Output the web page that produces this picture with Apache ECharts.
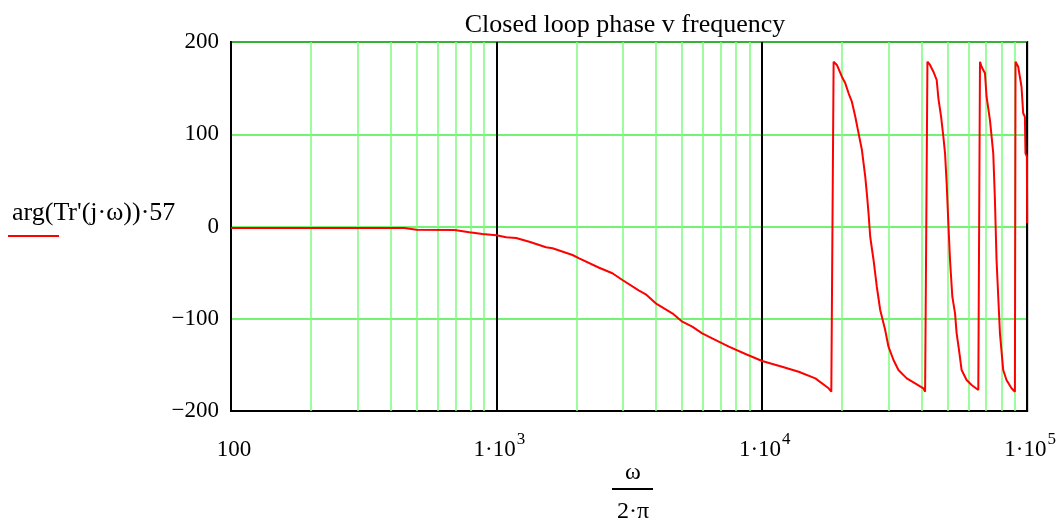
<!DOCTYPE html>
<html>
<head>
<meta charset="utf-8">
<script src="https://cdn.jsdelivr.net/npm/echarts@6/dist/echarts.min.js"></script>
<style>
  html, body { margin: 0; padding: 0; background: #fff; }
  #chart { width: 1059px; height: 522px; }
</style>
</head>
<body>
<div id="chart"></div>
<script>
// Closed-loop phase response, frequency in Hz (omega / 2pi), phase in degrees
const freq = [
  100, 200, 400, 450, 500, 695, 791, 886, 1000, 1088, 1186, 1331, 1538, 1628, 1936,
  2051, 2439, 2736, 2984, 3449, 3655, 3985, 4601, 5018, 5470, 5964, 6504, 7515, 8683,
  10030, 11924, 13774, 15918, 17858, 18281,
  18650, 19190, 20040, 20640, 21240, 21850, 22510, 23160, 23840, 24540, 24880, 25250,
  25620, 26370, 27130, 27940, 29170, 30020, 31350, 32730, 35170, 37830, 40640, 41250,
  42090, 43050, 44330, 45610, 46290, 47380, 48330, 49040, 49730, 50470, 51200, 52240,
  53480, 54230, 55360, 56620, 59120, 61750, 65440, 65830,
  66410, 67330, 69340, 70310, 72410, 74510, 75600, 76670, 77800, 78960, 81230, 83580,
  87300, 89910,
  90390, 92520, 95200, 96610, 98040, 98550, 99750, 100000
];
const phase = [
  -1.5, -1.5, -1.5, -1.7, -3.5, -3.8, -6.3, -8.1, -9.5, -11.7, -12.5, -16.5, -22.5, -23.6, -30.9,
  -34.5, -44.7, -50.7, -58.0, -69.6, -73.5, -83.3, -94.1, -103.2, -108.6, -115.8, -121.2, -130.3, -138.2,
  -145.8, -152.0, -157.4, -164.6, -175.4, -179.1,
  178.6, 175.1, 162.4, 155.2, 144.4, 135.3, 119.0, 101.0, 82.9, 54.0, 36.0, 14.3,
  -11.1, -36.3, -65.3, -90.5, -112.2, -130.3, -144.7, -155.6, -164.6, -170.0, -175.4, -179.1,
  178.6, 175.1, 167.8, 158.8, 139.0, 119.0, 97.3, 79.3, 46.8, 3.5, -36.3, -76.1,
  -94.1, -115.8, -133.9, -155.6, -166.4, -171.8, -177.2, -179.1,
  178.6, 173.2, 166.1, 140.7, 115.4, 79.3, 28.7, -36.3, -76.1, -115.8, -155.6, -166.4,
  -175.4, -179.1,
  178.6, 173.2, 151.5, 122.7, 119.0, 79.3, 75.7, 3.5
];

// Intermediate (2..9 per decade) vertical grid lines
const minorGrid = [
  200, 300, 400, 500, 600, 700, 800, 900,
  2000, 3000, 4000, 5000, 6000, 7000, 8000, 9000,
  20000, 30000, 40000, 50000, 60000, 70000, 80000, 90000
];

const seriesName = "arg(Tr'(j\u00b7\u03c9))\u00b757";
const FONT = "'Liberation Serif', 'Times New Roman', serif";

const chart = echarts.init(document.getElementById('chart'), null, { renderer: 'canvas' });

const supRich = {
  b: { fontFamily: FONT, fontSize: 23, color: '#000', lineHeight: 30, verticalAlign: 'bottom' },
  s: { fontFamily: FONT, fontSize: 17, color: '#000', lineHeight: 30, verticalAlign: 'top', padding: [0, 0, 12, 1] }
};

chart.setOption({
  animation: false,
  backgroundColor: '#fff',
  title: {
    text: 'Closed loop phase v frequency',
    left: 620, top: 7, textAlign: 'center',
    textStyle: { fontFamily: FONT, fontSize: 26, fontWeight: 'normal', color: '#000' }
  },
  grid: {
    left: 231, right: 30, top: 42, bottom: 111,
    show: true, borderColor: '#000', borderWidth: 2, backgroundColor: 'transparent'
  },
  xAxis: {
    type: 'log', logBase: 10, min: 100, max: 100000,
    axisLine: { show: true, onZero: false, lineStyle: { color: '#000', width: 2 } },
    axisTick: { show: false },
    splitLine: { show: true, lineStyle: { color: '#000', width: 2 } },
    axisLabel: {
      margin: 20,
      padding: [0, 0, 0, 6],
      fontFamily: FONT, fontSize: 23, color: '#000',
      formatter: function (v) {
        const e = Math.round(Math.log10(v));
        if (e === 2) return '{b|100}';
        return '{b|1\u00b710}{s|' + e + '}';
      },
      rich: supRich
    }
  },
  yAxis: {
    type: 'value', min: -200, max: 200, interval: 100,
    axisLine: { show: true, lineStyle: { color: '#000', width: 2 } },
    axisTick: { show: false },
    splitLine: { show: true, lineStyle: { color: '#44ee44', width: 1.5 } },
    axisLabel: {
      margin: 12,
      fontFamily: FONT, fontSize: 23, color: '#000',
      formatter: function (v) { return String(v).replace('-', '\u2212'); }
    }
  },
  series: [
    {
      name: 'grid',
      type: 'line',
      data: [],
      z: 1,
      silent: true,
      markLine: {
        silent: true,
        symbol: 'none',
        label: { show: false },
        lineStyle: { color: '#7dfc7d', width: 1.5, type: 'solid' },
        data: minorGrid.map(v => ({ xAxis: v }))
      }
    },
    {
      name: seriesName,
      type: 'line',
      z: 5,
      data: freq.map((f, i) => [f, phase[i]]),
      showSymbol: false,
      clip: true,
      lineStyle: { color: '#ff0000', width: 2 },
      itemStyle: { color: '#ff0000' }
    }
  ],
  graphic: [
    // series caption with its line sample
    { type: 'text', left: 12, top: 200,
      style: { text: seriesName, font: '26px ' + FONT, fill: '#000' } },
    { type: 'line', shape: { x1: 8, y1: 236, x2: 59, y2: 236 },
      style: { stroke: '#ff0000', lineWidth: 2 } },
    // x axis title: omega over 2*pi
    { type: 'text', x: 633, y: 461,
      style: { text: '\u03c9', font: '24px ' + FONT, fill: '#000', align: 'center' } },
    { type: 'line', shape: { x1: 612, y1: 489, x2: 653, y2: 489 },
      style: { stroke: '#000', lineWidth: 2 } },
    { type: 'text', x: 633, y: 500,
      style: { text: '2\u00b7\u03c0', font: '24px ' + FONT, fill: '#000', align: 'center' } }
  ]
});
</script>
</body>
</html>
